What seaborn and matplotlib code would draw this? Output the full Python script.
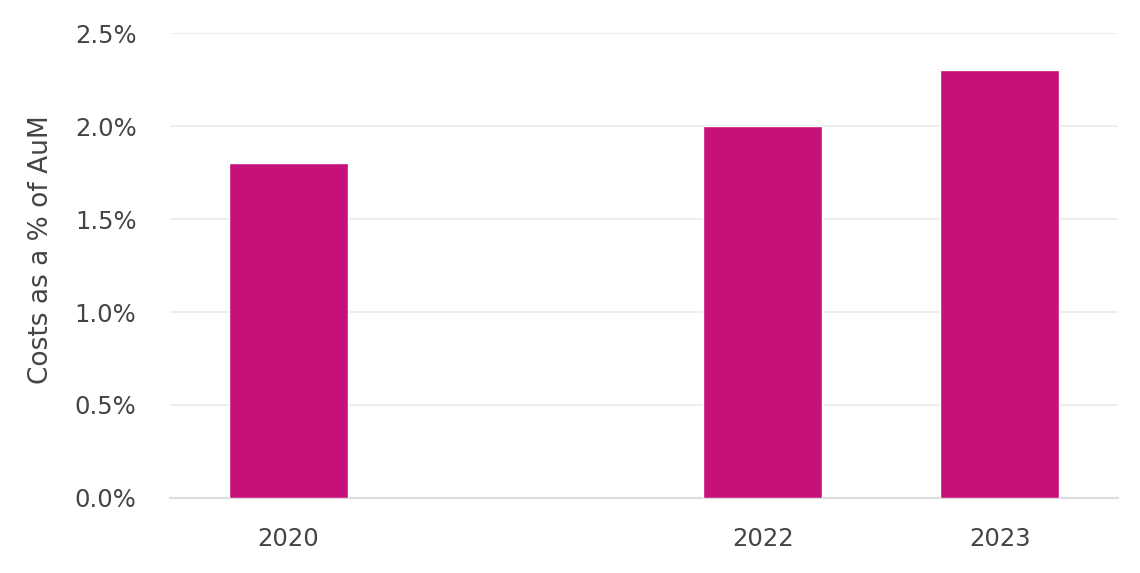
import numpy as np
import pandas as pd
import seaborn as sns
import matplotlib.pyplot as plt
from matplotlib.ticker import FuncFormatter

years = ['2020', '2021', '2022', '2023']
costs = [1.8, np.nan, 2.0, 2.3]
tick_labels = ['2020', '', '2022', '2023']

df = pd.DataFrame({'year': years, 'cost': costs})

sns.set_theme(style='white')
plt.rcParams['font.family'] = ['DejaVu Sans']

text_color = '#444444'
bar_color = '#C6107A'

fig = plt.figure(figsize=(11.4, 5.73), dpi=100)
ax = fig.add_axes([0.149, 0.131, 0.832, 0.811])

sns.barplot(data=df, x='year', y='cost', order=years, color=bar_color,
            width=0.5, saturation=1, ax=ax, zorder=3)

ax.set_ylim(0, 2.5)
ax.set_xlim(-0.5, 3.5)
ax.set_yticks([0, 0.5, 1.0, 1.5, 2.0, 2.5])
ax.yaxis.set_major_formatter(FuncFormatter(lambda v, p: f'{v:.1f}%'))
ax.set_xticks(range(len(years)))
ax.set_xticklabels(tick_labels)

ax.grid(axis='y', color='#eeeeee', linewidth=1.5, zorder=0)
ax.grid(axis='x', visible=False)
for s in ['top', 'right', 'left']:
    ax.spines[s].set_visible(False)
ax.spines['bottom'].set_color('#dddddd')
ax.spines['bottom'].set_linewidth(1.5)

ax.tick_params(axis='both', length=0, labelsize=17.5, labelcolor=text_color)
ax.tick_params(axis='y', pad=24)
ax.tick_params(axis='x', pad=21)

ax.set_xlabel('')
ax.set_ylabel('Costs as a % of AuM', fontsize=19, color=text_color)
ax.yaxis.set_label_coords(-0.122, 0.535)

fig.savefig('out.png', dpi=100)
